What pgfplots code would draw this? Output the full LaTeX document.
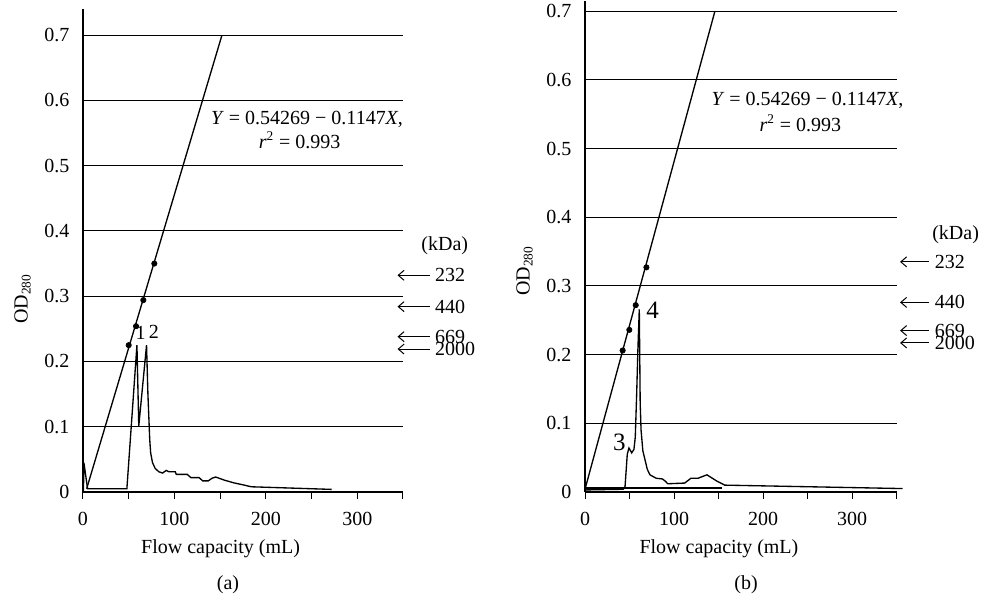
\documentclass[border=0pt]{standalone}
\usepackage{fontspec}
\setmainfont{Liberation Serif}
\usepackage{pgfplots}
\pgfplotsset{compat=1.18}
\usetikzlibrary{arrows.meta}

\tikzset{kda/.style={{Straight Barb[length=3.5pt,width=6pt]}-, line width=0.6pt}}
\pgfplotsset{
  chrom/.style={
    scale only axis, clip=false, anchor=south west,
    axis lines=left, axis line style={-, line width=0.7pt},
    xmin=0, xmax=350, ymin=0,
    xtick={0,50,...,350}, xticklabels={0,,100,,200,,300,},
    ytick={0,0.1,0.2,0.3,0.4,0.5,0.6,0.7},
    yticklabels={0,0.1,0.2,0.3,0.4,0.5,0.6,0.7},
    ymajorgrids, major grid style={black, line width=0.6pt},
    tick align=outside, xtick style={black, line width=0.6pt}, ytick style={draw=none},
    major tick length=4pt,
    tick label style={font=\fontsize{12}{14}\selectfont},
    xticklabel style={yshift=-4pt},
    label style={font=\fontsize{12}{14}\selectfont},
    xlabel={Flow capacity (mL)}, ylabel={OD\textsubscript{280}},
    xlabel style={at={(ticklabel cs:0.43)}},
  },
  curve/.style={black, line width=0.8pt, mark=none},
  dots/.style={black, only marks, mark=*, mark size=1.6pt},
}

\begin{document}
\fontsize{12}{14}\selectfont
\begin{tikzpicture}
\path[use as bounding box] (0pt,0pt) rectangle (592.8pt,362.4pt);

% (a)
\begin{axis}[chrom, at={(49.8pt,67.2pt)}, width=192pt, height=289.8pt, ymax=0.74,
  ylabel style={at={(ticklabel cs:0.4)}}]
\addplot[curve] coordinates {(4,0.005)(152,0.70)};
\addplot[dots] coordinates {(50,0.225)(58,0.254)(66,0.294)(78,0.350)};
\addplot[curve] coordinates {
(0.5,0.002)(1,0.045)(5,0.005)(48,0.005)(59,0.225)(61,0.101)(69.5,0.225)
(71,0.15)(73,0.08)(74,0.06)(76,0.045)(79,0.036)(83,0.031)(87,0.029)
(91,0.033)(94,0.031)(97,0.031)(101,0.031)(102,0.027)(114,0.027)(118,0.022)
(127,0.022)(131,0.017)(137,0.017)(141,0.021)(145,0.023)(149,0.021)
(155,0.018)(165,0.014)(175,0.011)(184,0.008)(272,0.004)};
\node at (axis cs:63,0.243) {1};
\node at (axis cs:77.5,0.246) {2};
\node at (axis cs:245,0.571) {\textit{Y} = 0.54269 − 0.1147\textit{X},};
\node at (axis cs:237,0.539) {\textit{r}\textsuperscript{2} = 0.993};
\node[anchor=west, inner sep=1pt] at (axis cs:368,0.377) {(kDa)};
\draw[kda] (axis cs:344,0.332) -- (axis cs:379,0.332) node[anchor=west, inner sep=3pt] {232};
\draw[kda] (axis cs:344,0.284) -- (axis cs:379,0.284) node[anchor=west, inner sep=3pt] {440};
\draw[kda] (axis cs:344,0.238) -- (axis cs:379,0.238) node[anchor=west, inner sep=3pt] {669};
\draw[kda] (axis cs:344,0.219) -- (axis cs:379,0.219) node[anchor=west, inner sep=3pt] {2000};
\end{axis}

% (b)
\begin{axis}[chrom, at={(351pt,67.2pt)}, width=186.9pt, height=294.7pt, ymax=0.715,
  ylabel style={at={(ticklabel cs:0.45)}}]
\addplot[curve] coordinates {(0,0.004)(146,0.70)};
\addplot[dots] coordinates {(42.3,0.206)(49.8,0.236)(57,0.272)(69,0.327)};
\addplot[curve] coordinates {(0,0.006)(154,0.006)};
\addplot[curve] coordinates {
(0,0.003)(43,0.004)(45,0.008)(47.5,0.055)(49.4,0.064)(52.5,0.057)(55,0.062)
(56.5,0.08)(58,0.14)(59.5,0.21)(61,0.266)(61.5,0.2)(62,0.13)(63,0.09)
(65,0.06)(67.4,0.047)(70,0.033)(73,0.025)(80,0.020)(87,0.019)(90,0.016)
(93,0.012)(112,0.013)(119,0.020)(127,0.020)(137,0.025)(148,0.016)
(157,0.010)(357,0.005)};
\node[font=\fontsize{15}{17}\selectfont] at (axis cs:38.5,0.073) {3};
\node[font=\fontsize{15}{17}\selectfont] at (axis cs:76,0.265) {4};
\node at (axis cs:250,0.57) {\textit{Y} = 0.54269 − 0.1147\textit{X},};
\node at (axis cs:242,0.537) {\textit{r}\textsuperscript{2} = 0.993};
\node[anchor=west, inner sep=1pt] at (axis cs:388,0.375) {(kDa)};
\draw[kda] (axis cs:354,0.335) -- (axis cs:387,0.335) node[anchor=west, inner sep=3pt] {232};
\draw[kda] (axis cs:354,0.276) -- (axis cs:387,0.276) node[anchor=west, inner sep=3pt] {440};
\draw[kda] (axis cs:354,0.235) -- (axis cs:387,0.235) node[anchor=west, inner sep=3pt] {669};
\draw[kda] (axis cs:354,0.217) -- (axis cs:387,0.217) node[anchor=west, inner sep=3pt] {2000};
\end{axis}

\node at (136.8pt,11.4pt) {(a)};
\node at (447.6pt,11.4pt) {(b)};
\end{tikzpicture}
\end{document}
